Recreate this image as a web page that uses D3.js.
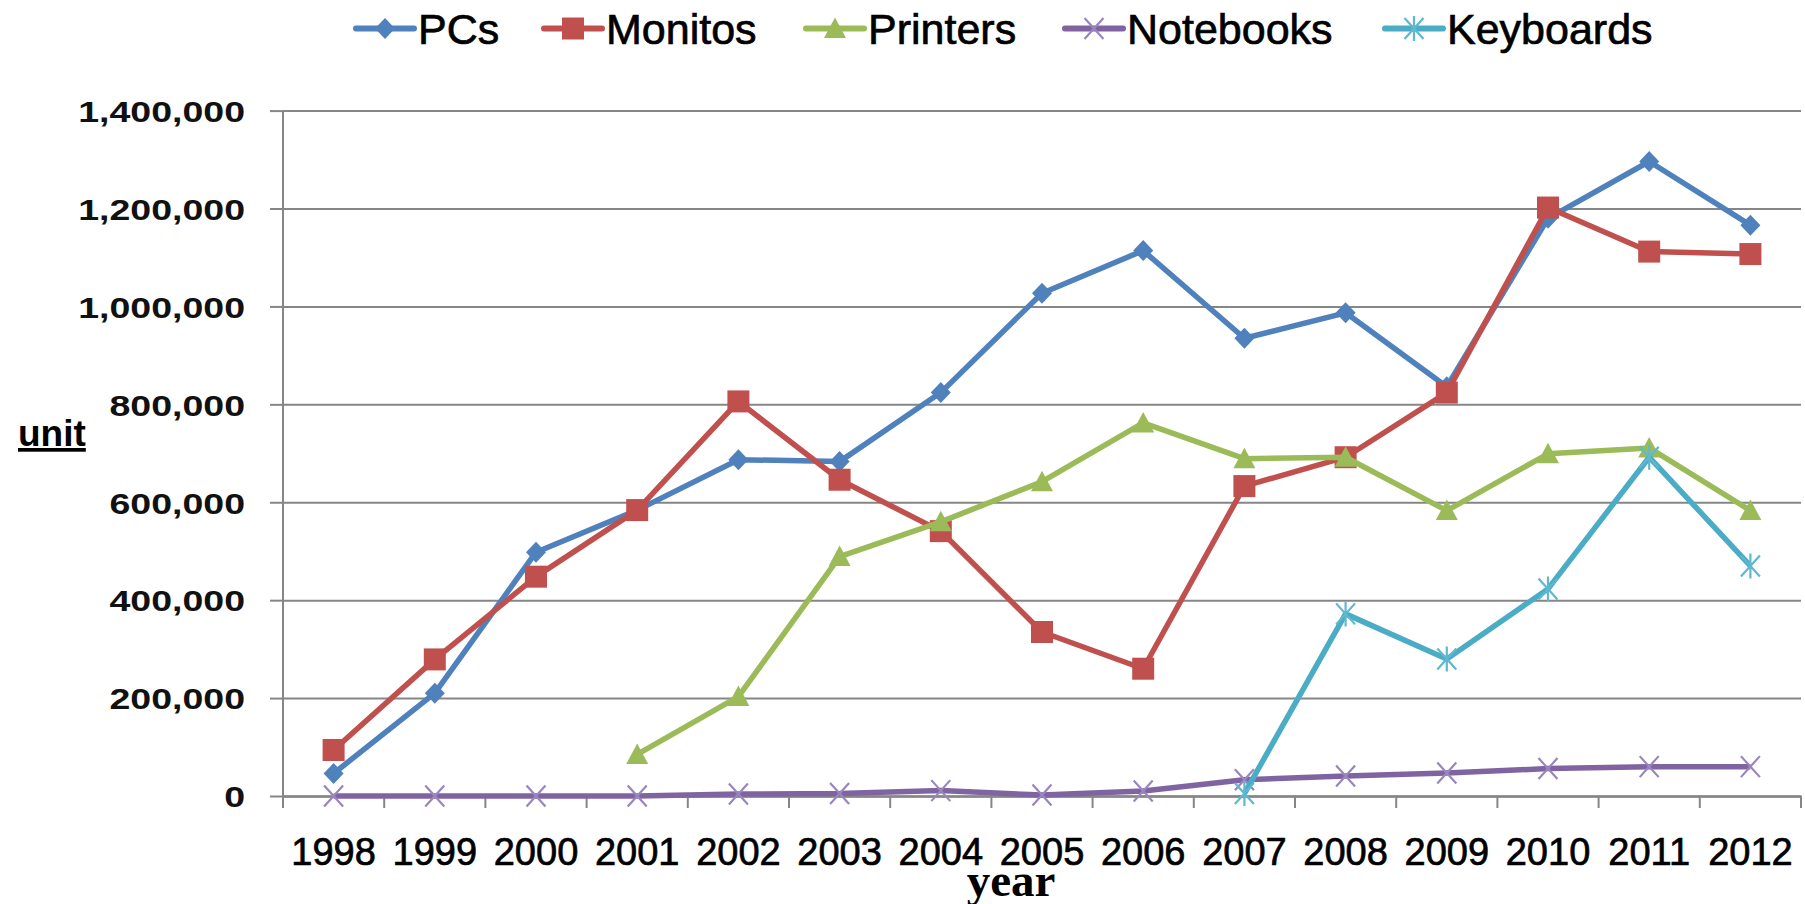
<!DOCTYPE html>
<html>
<head>
<meta charset="utf-8">
<script src="https://cdn.jsdelivr.net/npm/d3@7"></script>
<style>
  html, body { margin: 0; padding: 0; background: #ffffff; }
  svg { display: block; }
</style>
</head>
<body>
<svg id="chart" width="1805" height="904"></svg>
<script>
// ---------------- DATA ----------------
const years = ["1998","1999","2000","2001","2002","2003","2004","2005","2006","2007","2008","2009","2010","2011","2012"];
const pcs       = [46000, 210000, 498000, 584000, 687000, 683000, 824000, 1027000, 1114000, 935000, 987000, 836000, 1180000, 1296000, 1166000];
const monitos   = [94000, 279000, 448000, 584000, 806000, 646000, 541000, 335000, 260000, 633000, 692000, 824000, 1202000, 1112000, 1107000];
const printers  = [null, null, null, 85000, 203000, 489000, 560000, 642000, 762000, 689000, 692000, 583000, 699000, 711000, 583000];
const notebooks = [0, 0, 0, 0, 4000, 5000, 11000, 2000, 10000, 33000, 41000, 47000, 56000, 60000, 60000];
const keyboards = [null, null, null, null, null, null, null, null, null, 5000, 372000, 280000, 423000, 692000, 470000];
const seriesNames = ["PCs", "Monitos", "Printers", "Notebooks", "Keyboards"];
const yTicks = [0, 200000, 400000, 600000, 800000, 1000000, 1200000, 1400000];
const yAxisTitle = "unit";
const xAxisTitle = "year";

// ---------------- STYLE ----------------
const colors = ["#4F81BD", "#C0504D", "#9BBB59", "#8064A2", "#4BACC6"];
const markerColors = ["#4F81BD", "#C0504D", "#9BBB59", "#9A86BE", "#5FB8D0"];
const markerTypes = ["diamond", "square", "triangle", "x", "star"];
const allSeries = [pcs, monitos, printers, notebooks, keyboards];

const svg = d3.select("#chart");
const plotLeft = 283, plotRight = 1801, plotTop = 110.6, plotBottom = 796;

const x = d3.scaleBand().domain(years).range([plotLeft, plotRight]).paddingInner(0).paddingOuter(0);
const y = d3.scaleLinear().domain([0, 1400000]).range([plotBottom, plotTop]);
const gridColor = "#868686";

// gridlines
const grid = svg.append("g").attr("transform", `translate(${plotLeft},0)`)
  .call(d3.axisLeft(y).tickValues(yTicks).tickSize(-(plotRight - plotLeft)).tickFormat(""));
grid.select(".domain").remove();
grid.selectAll("line").attr("stroke", gridColor).attr("stroke-width", 2);

// y axis with ticks and labels
const yAx = svg.append("g").attr("transform", `translate(${plotLeft},0)`)
  .call(d3.axisLeft(y).tickValues(yTicks).tickSize(13).tickSizeOuter(0).tickPadding(25).tickFormat(d3.format(",")));
yAx.select(".domain").remove();
yAx.selectAll("line").attr("stroke", gridColor).attr("stroke-width", 2);
yAx.selectAll("text")
  .attr("font-family", "'Liberation Sans', Arial, sans-serif")
  .attr("font-weight", "bold")
  .attr("font-size", 30)
  .attr("fill", "#111")
  .attr("x", 0)
  .attr("dy", "0.36em")
  .attr("transform", "translate(-38,0) scale(1.25,1)");

// y axis line
svg.append("line").attr("x1", plotLeft).attr("x2", plotLeft).attr("y1", plotTop).attr("y2", plotBottom + 12)
  .attr("stroke", gridColor).attr("stroke-width", 2);

// x axis
const xAx = svg.append("g").attr("transform", `translate(0,${plotBottom})`)
  .call(d3.axisBottom(x).tickSize(0).tickSizeOuter(0).tickPadding(0));
xAx.select(".domain").attr("stroke", gridColor).attr("stroke-width", 2.5);
xAx.selectAll("text")
  .attr("font-family", "'Liberation Sans', Arial, sans-serif")
  .attr("font-size", 38)
  .attr("fill", "#000")
  .attr("stroke", "#000").attr("stroke-width", 0.7)
  .attr("dy", null)
  .attr("y", 69);

// x boundary ticks
const bounds = years.map(d => x(d)).concat([x.range()[1]]);
svg.append("g").selectAll("line").data(bounds).join("line")
  .attr("x1", d => d).attr("x2", d => d)
  .attr("y1", plotBottom).attr("y2", plotBottom + 12)
  .attr("stroke", gridColor).attr("stroke-width", 2);

// axis titles
svg.append("text").text(yAxisTitle)
  .attr("x", 18).attr("y", 446)
  .attr("font-family", "'Liberation Sans', Arial, sans-serif")
  .attr("font-weight", "bold").attr("font-size", 37)
  .style("text-decoration", "underline")
  .attr("fill", "#000");

svg.append("text").text(xAxisTitle)
  .attr("x", 1011).attr("y", 896)
  .attr("text-anchor", "middle")
  .attr("font-family", "'Liberation Serif', 'Times New Roman', serif")
  .attr("font-weight", "bold").attr("font-size", 47)
  .attr("fill", "#000");

// marker paths
function markerPath(type) {
  switch (type) {
    case "diamond": return "M0,-10.5L10,0L0,10.5L-10,0Z";
    case "square": return "M-11,-11H11V11H-11Z";
    case "triangle": return "M0,-11L11,9.5L-11,9.5Z";
    case "x": return "M-9.5,-10.5L9.5,10.5M9.5,-10.5L-9.5,10.5";
    case "star": return "M-9.5,-10.5L9.5,10.5M9.5,-10.5L-9.5,10.5M0,-12.5V12.5";
  }
}
function drawMarker(g, type, cx, cy, i) {
  const filled = (type === "diamond" || type === "square" || type === "triangle");
  const p = g.append("path").attr("d", markerPath(type)).attr("transform", `translate(${cx},${cy})`);
  if (filled) p.attr("fill", markerColors[i]).attr("stroke", "none");
  else p.attr("fill", "none").attr("stroke", markerColors[i]).attr("stroke-width", 2.2);
}

// series
const line = d3.line()
  .defined(d => d.v != null)
  .x(d => x(d.year) + x.bandwidth() / 2)
  .y(d => y(d.v));

allSeries.forEach((vals, i) => {
  const pts = years.map((yr, j) => ({ year: yr, v: vals[j] }));
  const g = svg.append("g");
  g.append("path").datum(pts).attr("d", line)
    .attr("fill", "none").attr("stroke", colors[i]).attr("stroke-width", 5.5)
    .attr("stroke-linejoin", "round");
  pts.filter(d => d.v != null).forEach(d => {
    drawMarker(g, markerTypes[i], x(d.year) + x.bandwidth() / 2, y(d.v), i);
  });
});

// legend
const legendStarts = [356, 544, 806, 1065, 1385];
const legendY = 28.5;
const lg = svg.append("g");
seriesNames.forEach((name, i) => {
  const sx = legendStarts[i];
  lg.append("line").attr("x1", sx).attr("x2", sx + 58).attr("y1", legendY).attr("y2", legendY)
    .attr("stroke", colors[i]).attr("stroke-width", 6).attr("stroke-linecap", "round");
  drawMarker(lg, markerTypes[i], sx + 29, legendY, i);
  lg.append("text").text(name)
    .attr("x", sx + 62).attr("y", 44)
    .attr("font-family", "'Liberation Sans', Arial, sans-serif")
    .attr("font-size", 43).attr("fill", "#000")
    .attr("stroke", "#000").attr("stroke-width", 0.7);
});
</script>
</body>
</html>
